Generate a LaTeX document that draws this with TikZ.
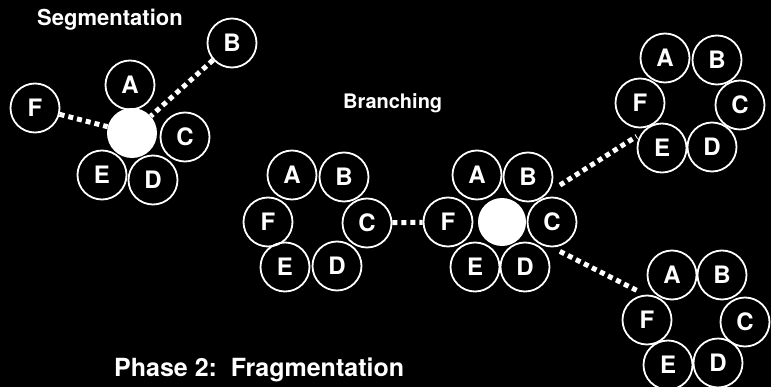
\documentclass[tikz,border=0pt]{standalone}
\usepackage{fontspec}
\setmainfont{TeX Gyre Heros}
\usetikzlibrary{calc}

\begin{document}
\begin{tikzpicture}[x=1pt,y=-1pt,
    ring/.style={circle,draw=white,line width=1.8pt,minimum size=49pt,inner sep=0pt,
      text=white,font=\fontsize{24}{24}\selectfont\bfseries},
    hole/.style={circle,fill=white,minimum size=48pt,inner sep=0pt},
    dots/.style={draw=white,line width=5pt,dash pattern=on 5pt off 4pt},
    caption/.style={text=white,anchor=base west,inner sep=0pt}]
    \fill[black] (0,0) rectangle (771,387);
    % segmentation
    \node[caption,font=\fontsize{22}{22}\selectfont\bfseries] (tseg) at (37,26) {Segmentation};
    \node[hole,minimum size=50pt] (sX) at (132,133) {};
    \node[ring] (sA) at (130,85) {A};
    \node[ring] (sB) at (232,43) {B};
    \node[ring] (sC) at (185,137) {C};
    \node[ring] (sD) at (153,180) {D};
    \node[ring] (sE) at (102,175) {E};
    \node[ring] (sF) at (35,108) {F};
    \draw[dots] (sF) -- (sX);
    \draw[dots] (sB) -- (sX);
    % branching
    \node[caption,font=\fontsize{20}{20}\selectfont\bfseries] (tbr) at (343,108) {Branching};
    \node[ring] (mA) at (292,175) {A};
    \node[ring] (mB) at (344,177) {B};
    \node[ring] (mC) at (367,223) {C};
    \node[ring] (mD) at (337,266) {D};
    \node[ring] (mE) at (285,267) {E};
    \node[ring] (mF) at (268,222) {F};
    \node[hole] (rX) at (502,222) {};
    \node[ring] (rA) at (477,175) {A};
    \node[ring] (rB) at (528,177) {B};
    \node[ring] (rC) at (552,222) {C};
    \node[ring] (rD) at (525,267) {D};
    \node[ring] (rE) at (475,267) {E};
    \node[ring] (rF) at (448,222) {F};
    \draw[dots] (mC) -- (rF);
    % fragments
    \coordinate (tX) at (689,103);
    \node[ring] (tA) at (665,58) {A};
    \node[ring] (tB) at (717,60) {B};
    \node[ring] (tC) at (740,105) {C};
    \node[ring] (tD) at (712,147) {D};
    \node[ring] (tE) at (662,148) {E};
    \node[ring] (tF) at (640,103) {F};
    \coordinate (bX) at (695,320);
    \node[ring] (bA) at (672,275) {A};
    \node[ring] (bB) at (722,275) {B};
    \node[ring] (bC) at (745,322) {C};
    \node[ring] (bD) at (718,363) {D};
    \node[ring] (bE) at (668,365) {E};
    \node[ring] (bF) at (647,320) {F};
    \draw[dots] ($(rX)!0.31!(tX)$) -- ($(rX)!0.72!(tX)$);
    \draw[dots] ($(rX)!0.30!(bX)$) -- ($(rX)!0.715!(bX)$);
    \node[caption,font=\fontsize{25}{25}\selectfont\bfseries] (tph) at (114,376) {Phase 2:\ \ Fragmentation};
    \useasboundingbox (0,0) rectangle (771,387);
\end{tikzpicture}
\end{document}
